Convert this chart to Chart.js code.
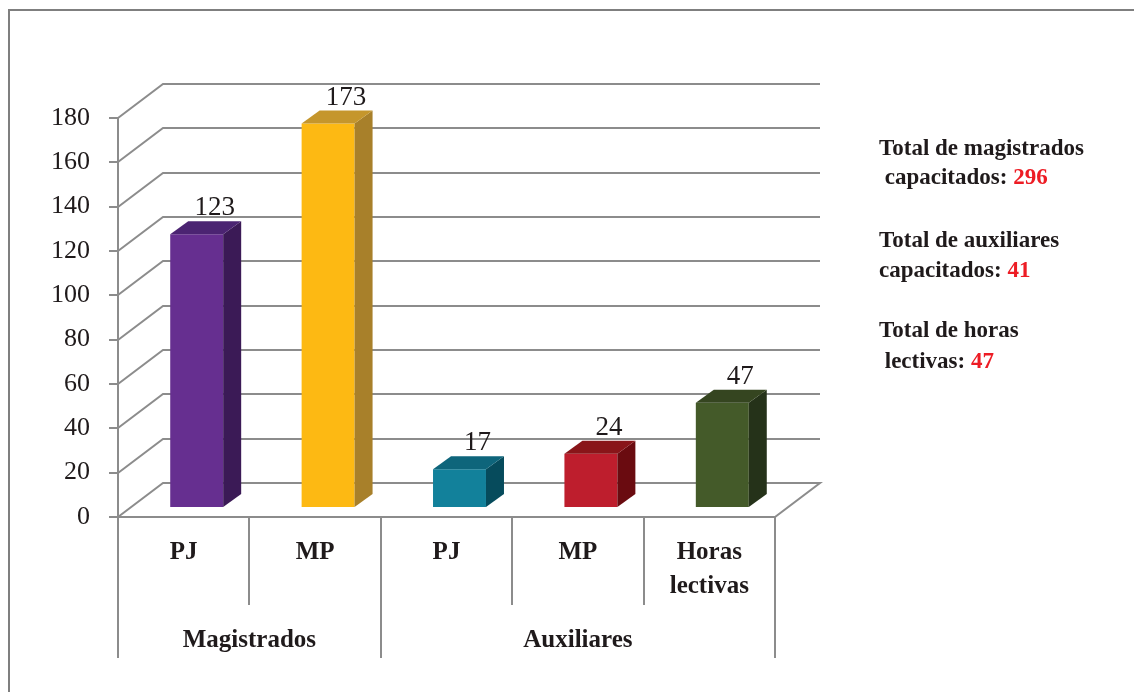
<!DOCTYPE html>
<html>
<head>
<meta charset="utf-8">
<script src="https://cdn.jsdelivr.net/npm/chart.js@4/dist/chart.umd.min.js"></script>
<style>
  html, body { margin: 0; padding: 0; background: #ffffff; }
  #wrap { width: 1134px; height: 692px; position: relative; }
</style>
</head>
<body>
<div id="wrap"><canvas id="c" width="1134" height="692"></canvas></div>
<script>
// ---- data ----
const categories = ['PJ', 'MP', 'PJ', 'MP', ['Horas', 'lectivas']];
const groups = ['Magistrados', 'Auxiliares'];
const groupSpans = [2, 3];
const values = [123, 173, 17, 24, 47];
const yMin = 0;
const yMax = 180;
const yStep = 20;
const frontColors = ['#662f90', '#fdb913', '#12819b', '#be1e2d', '#445a29'];
const sideColors  = ['#3b1a56', '#a8802a', '#064b5c', '#6a0b10', '#253219'];
const topColors   = ['#4b2472', '#c5962c', '#0e657b', '#891519', '#354520'];
const summary = [
  { text: 'Total de magistrados', num: '' },
  { text: ' capacitados: ', num: '296' },
  { text: 'Total de auxiliares', num: '' },
  { text: 'capacitados: ', num: '41' },
  { text: 'Total de horas', num: '' },
  { text: ' lectivas: ', num: '47' }
];

// ---- style constants ----
const FONT = "'Liberation Serif', 'DejaVu Serif', serif";
const TEXT = '#1f1a1b';
const GRID = '#8c8c8c';
const WALL_DX = 45, WALL_DY = 34;   // perspective depth of walls
const BAR_SX = 13, BAR_SY = 10;     // bars sit slightly back from floor edge
const BAR_DX = 18, BAR_DY = 13;     // bar depth

const threeD = {
  id: 'threeD',
  beforeDraw(chart) {
    const ctx = chart.ctx;
    ctx.save();
    ctx.fillStyle = '#ffffff';
    ctx.fillRect(0, 0, chart.width, chart.height);
    ctx.strokeStyle = '#7f7f7f';
    ctx.lineWidth = 2;
    ctx.beginPath();
    ctx.moveTo(9, 692);
    ctx.lineTo(9, 10);
    ctx.lineTo(1134, 10);
    ctx.stroke();
    ctx.restore();
  },
  beforeDatasetsDraw(chart) {
    const { ctx, chartArea: { left, right }, scales: { y } } = chart;
    ctx.save();
    ctx.strokeStyle = GRID;
    ctx.lineWidth = 2;
    ctx.beginPath();
    y.ticks.forEach(t => {
      const py = Math.round(y.getPixelForValue(t.value));
      ctx.moveTo(left - 9, py);
      ctx.lineTo(left, py);
      ctx.moveTo(left, py);
      ctx.lineTo(left + WALL_DX, py - WALL_DY);
      ctx.lineTo(right + WALL_DX, py - WALL_DY);
      if (t.value === yMin) {
        ctx.lineTo(right, py);
        ctx.lineTo(left, py);
      }
    });
    const y0 = Math.round(y.getPixelForValue(yMin));
    const y1 = Math.round(y.getPixelForValue(yMax));
    ctx.moveTo(left, y1);
    ctx.lineTo(left, y0);
    ctx.stroke();
    ctx.restore();
    ctx.save();
    ctx.translate(BAR_SX, -BAR_SY);
  },
  afterDatasetsDraw(chart) {
    const ctx = chart.ctx;
    ctx.restore();
    const meta = chart.getDatasetMeta(0);
    ctx.save();
    meta.data.forEach((el, i) => {
      const p = el.getProps(['x', 'y', 'base', 'width'], true);
      const L = p.x - p.width / 2 + BAR_SX;
      const R = p.x + p.width / 2 + BAR_SX;
      const T = p.y - BAR_SY;
      const B = p.base - BAR_SY;
      ctx.fillStyle = sideColors[i];
      ctx.beginPath();
      ctx.moveTo(R, T);
      ctx.lineTo(R + BAR_DX, T - BAR_DY);
      ctx.lineTo(R + BAR_DX, B - BAR_DY);
      ctx.lineTo(R, B);
      ctx.closePath();
      ctx.fill();
      ctx.fillStyle = topColors[i];
      ctx.beginPath();
      ctx.moveTo(L, T);
      ctx.lineTo(R, T);
      ctx.lineTo(R + BAR_DX, T - BAR_DY);
      ctx.lineTo(L + BAR_DX, T - BAR_DY);
      ctx.closePath();
      ctx.fill();
      ctx.fillStyle = TEXT;
      ctx.font = '27px ' + FONT;
      ctx.textAlign = 'center';
      ctx.textBaseline = 'alphabetic';
      ctx.fillText(String(values[i]), (L + R) / 2 + BAR_DX, T - BAR_DY - 6);
    });
    ctx.restore();
  },
  afterDraw(chart) {
    const { ctx, chartArea: { left, right, bottom }, scales: { x } } = chart;
    const n = categories.length;
    const catW = (right - left) / n;
    ctx.save();
    ctx.strokeStyle = GRID;
    ctx.lineWidth = 2;
    ctx.beginPath();
    const boundaries = new Set([0]);
    let acc = 0;
    groupSpans.forEach(s => { acc += s; boundaries.add(acc); });
    for (let i = 0; i <= n; i++) {
      const bx = Math.round(left + i * catW);
      ctx.moveTo(bx, bottom);
      ctx.lineTo(bx, boundaries.has(i) ? 658 : 605);
    }
    ctx.stroke();
    ctx.fillStyle = TEXT;
    ctx.font = 'bold 25px ' + FONT;
    ctx.textAlign = 'center';
    ctx.textBaseline = 'middle';
    categories.forEach((c, i) => {
      const cx = x.getPixelForValue(i);
      const lines = Array.isArray(c) ? c : [c];
      lines.forEach((ln, k) => ctx.fillText(ln, cx, 553 + k * 34));
    });
    let start = 0;
    groups.forEach((g, gi) => {
      const a = left + start * catW;
      const b = left + (start + groupSpans[gi]) * catW;
      ctx.fillText(g, (a + b) / 2, 641);
      start += groupSpans[gi];
    });
    ctx.font = 'bold 23px ' + FONT;
    ctx.textAlign = 'left';
    ctx.textBaseline = 'alphabetic';
    const ys = [155, 184, 247, 277, 337, 368];
    summary.forEach((s, i) => {
      ctx.fillStyle = TEXT;
      ctx.fillText(s.text, 879, ys[i]);
      if (s.num) {
        const w = ctx.measureText(s.text).width;
        ctx.fillStyle = '#ed1c24';
        ctx.fillText(s.num, 879 + w, ys[i]);
      }
    });
    ctx.restore();
  }
};

new Chart(document.getElementById('c'), {
  type: 'bar',
  data: {
    labels: categories,
    datasets: [{
      data: values,
      backgroundColor: frontColors,
      borderWidth: 0,
      categoryPercentage: 1.0,
      barPercentage: 0.403
    }]
  },
  options: {
    responsive: false,
    animation: false,
    events: [],
    layout: { padding: { left: 0, right: 359, top: 118, bottom: 175 } },
    plugins: { legend: { display: false }, tooltip: { enabled: false } },
    scales: {
      x: { display: false, offset: true },
      y: {
        min: yMin, max: yMax,
        ticks: { stepSize: yStep, color: TEXT, font: { family: FONT, size: 26 }, padding: 20 },
        grid: { display: false },
        border: { display: false },
        afterFit(scale) { scale.width = 118; }
      }
    }
  },
  plugins: [threeD]
});
</script>
</body>
</html>
